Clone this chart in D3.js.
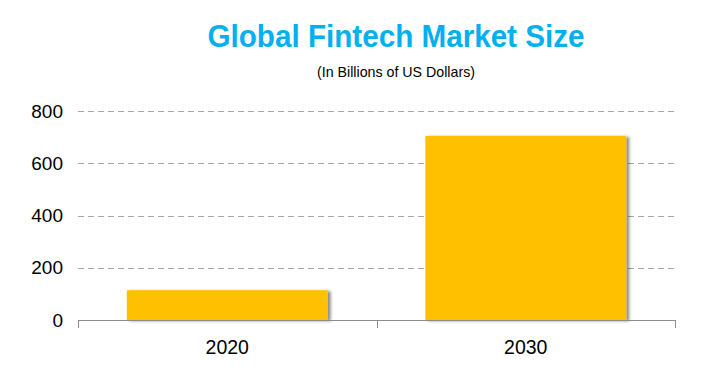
<!DOCTYPE html>
<html><head><meta charset="utf-8">
<script src="https://cdn.jsdelivr.net/npm/d3@7"></script>
<style>body{margin:0;background:#fff}svg{display:block}</style>
</head><body>
<script>
const categories = ["2020", "2030"];
const values = [114, 705];
const yTicks = [0, 200, 400, 600, 800];
const title = "Global Fintech Market Size";
const subtitle = "(In Billions of US Dollars)";

const W = 720, H = 384;
const m = {left: 78, right: 45, top: 111, bottom: 64};
const svg = d3.select("body").append("svg").attr("width", W).attr("height", H);
const font = "'Liberation Sans', Arial, sans-serif";

const defs = svg.append("defs");
const f = defs.append("filter").attr("id", "sh").attr("x", "-10%").attr("y", "-10%").attr("width", "130%").attr("height", "130%");
f.append("feDropShadow").attr("dx", 3).attr("dy", 1).attr("stdDeviation", 1.6).attr("flood-color", "#000").attr("flood-opacity", 0.45);

const x = d3.scaleBand().domain(categories).range([m.left, W - m.right]).padding(0);
const y = d3.scaleLinear().domain([0, 800]).range([H - m.bottom, m.top]);

// gridlines
svg.append("g").selectAll("line").data(yTicks.filter(d => d > 0)).join("line")
  .attr("x1", m.left).attr("x2", W - m.right)
  .attr("y1", d => Math.round(y(d)) + 0.5).attr("y2", d => Math.round(y(d)) + 0.5)
  .attr("stroke", "#a6a6a6").attr("stroke-width", 1).attr("stroke-dasharray", "6,4");

// bars
const bw = x.bandwidth() * 0.673;
svg.append("g").selectAll("rect").data(values).join("rect")
  .attr("x", (d, i) => x(categories[i]) + (x.bandwidth() - bw) / 2)
  .attr("width", bw)
  .attr("y", d => y(d))
  .attr("height", d => y(0) - y(d))
  .attr("fill", "#FFC000")
  .attr("filter", "url(#sh)");

// x axis
const xAxis = d3.axisBottom(x).tickSize(0).tickPadding(20);
const gx = svg.append("g").attr("transform", `translate(0,${y(0)})`).call(xAxis);
gx.select(".domain").remove();
gx.selectAll("text").attr("font-family", font).attr("font-size", 19.5).attr("fill", "#000");
gx.append("line").attr("x1", m.left).attr("x2", W - m.right).attr("y1", 0.5).attr("y2", 0.5).attr("stroke", "#8c8c8c");
const bounds = categories.map(c => x(c)).concat([W - m.right]);
gx.selectAll(".sep").data(bounds).join("line").attr("class", "sep")
  .attr("x1", d => Math.round(d) + 0.5).attr("x2", d => Math.round(d) + 0.5)
  .attr("y1", 0).attr("y2", 8).attr("stroke", "#8c8c8c");

// y axis labels
const yAxis = d3.axisLeft(y).tickValues(yTicks).tickSize(0).tickPadding(15);
const gy = svg.append("g").attr("transform", `translate(${m.left},0)`).call(yAxis);
gy.select(".domain").remove();
gy.selectAll("text").attr("font-family", font).attr("font-size", 19).attr("fill", "#000");

// titles
svg.append("text").attr("x", 396).attr("y", 47).attr("text-anchor", "middle")
  .attr("font-family", font).attr("font-weight", "bold").attr("font-size", 32)
  .attr("fill", "#00B0F0").attr("textLength", 377).attr("lengthAdjust", "spacingAndGlyphs").text(title);
svg.append("text").attr("x", 396).attr("y", 77).attr("text-anchor", "middle")
  .attr("font-family", font).attr("font-size", 15)
  .attr("fill", "#000").attr("textLength", 158).attr("lengthAdjust", "spacingAndGlyphs").text(subtitle);
</script>
</body></html>
